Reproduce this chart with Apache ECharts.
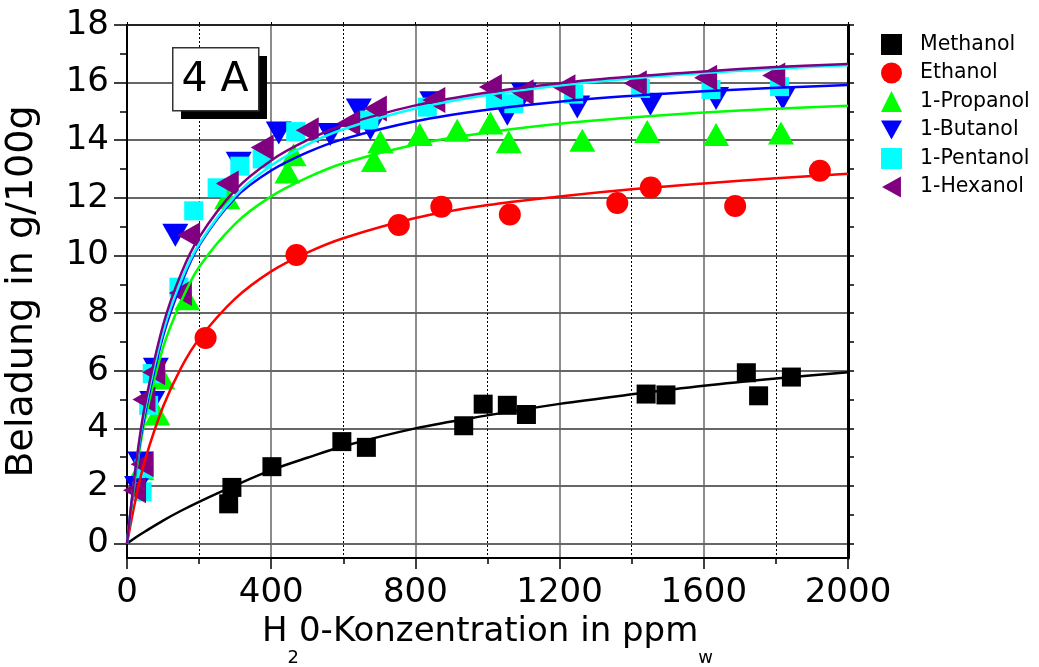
<!DOCTYPE html>
<html><head><meta charset="utf-8">
<script src="https://cdn.jsdelivr.net/npm/echarts@6/dist/echarts.min.js"></script>
<style>html,body{margin:0;padding:0;background:#fff}#c{width:1039px;height:667px}</style>
</head><body><div id="c"></div>
<script>
// ---- data ----
const seriesNames = ['Methanol', 'Ethanol', '1-Propanol', '1-Butanol', '1-Pentanol', '1-Hexanol'];
const methanolPts = [[282,1.38],[291,1.95],[402,2.67],[596,3.54],[664,3.34],[934,4.09],[988,4.84],[1055,4.80],[1108,4.48],[1440,5.19],[1495,5.16],[1718,5.93],[1752,5.13],[1843,5.78]];
const ethanolPts = [[218,7.14],[470,10.02],[754,11.06],[872,11.69],[1062,11.42],[1360,11.82],[1453,12.36],[1687,11.72],[1922,12.94]];
const propanolPts = [[40,2.6],[84,4.5],[98,5.75],[167,8.5],[278,12.0],[445,12.9],[462,13.5],[685,13.3],[703,13.95],[812,14.2],[916,14.35],[1008,14.6],[1059,13.95],[1263,14.0],[1443,14.3],[1634,14.2],[1814,14.25]];
const butanolPts = [[28,1.95],[37,2.8],[70,4.9],[80,6.05],[134,10.7],[310,13.2],[421,14.25],[564,14.2],[643,15.05],[675,14.4],[847,15.3],[1055,14.9],[1101,15.6],[1249,15.15],[1452,15.25],[1634,15.45],[1819,15.45]];
const pentanolPts = [[42,1.8],[47,2.6],[60,4.8],[70,5.9],[144,8.9],[185,11.55],[250,12.35],[313,13.1],[375,13.35],[468,14.3],[671,14.7],[833,15.15],[1022,15.44],[1073,15.27],[1239,15.6],[1424,15.8],[1620,15.76],[1810,15.86]];
const hexanolPts = [[21,1.85],[42,2.75],[47,5.0],[74,5.95],[148,8.7],[171,10.7],[278,12.5],[375,13.75],[500,14.35],[615,14.6],[689,15.1],[851,15.4],[1008,15.85],[1096,15.67],[1212,15.84],[1410,15.98],[1605,16.17],[1794,16.25]];

// fitted curves at these concentrations
const curveX = [0,25,50,100,150,200,300,400,500,600,800,1000,1200,1400,1600,1800,2000];
const methanolCurve = [0,0.22,0.42,0.8,1.14,1.45,2.02,2.55,2.98,3.38,4.0,4.45,4.85,5.18,5.48,5.73,5.95];
const ethanolCurve = [0,1.6,2.9,4.75,6.1,7.1,8.5,9.45,10.1,10.6,11.3,11.75,12.05,12.3,12.5,12.68,12.84];
const propanolCurve = [0,2.45,4.3,6.8,8.4,9.6,11.1,12.05,12.7,13.2,13.85,14.27,14.57,14.79,14.96,15.09,15.2];
const butanolCurve = [0,2.6,4.5,7.2,9.0,10.35,12.0,12.95,13.58,14.04,14.66,15.06,15.34,15.54,15.7,15.82,15.92];
const pentanolCurve = [0,2.67,4.66,7.35,9.13,10.4,12.07,13.12,13.85,14.38,15.1,15.57,15.9,16.14,16.33,16.48,16.6];
const hexanolCurve = [0,2.75,4.82,7.58,9.37,10.63,12.27,13.3,14.0,14.52,15.21,15.66,15.98,16.21,16.39,16.54,16.65];

const yMajorTicks = [0,2,4,6,8,10,12,14,16,18];
const yMinorTicks = [1,3,5,7,9,11,13,15,17];
const yRightTicks = [0,1,2,3,4,5,6,7,8,9,10,11,12,13,14,15,16,17,18];
const boxLabel = '4 A';

// ---- styling ----
const FONT = '"DejaVu Sans", sans-serif';
const colors = ['#000000', '#ff0000', '#00ff00', '#0000ff', '#00ffff', '#800080'];
const symbols = ['rect', 'circle', 'triangle', 'path://M0,0L10,0L5,9Z', 'rect', 'path://M9,0L9,10L0,5Z'];
const symbolSizes = [19, 22, [26, 23], [26, 23], 19, [23, 26]];
const pts = [methanolPts, ethanolPts, propanolPts, butanolPts, pentanolPts, hexanolPts];
const curves = [methanolCurve, ethanolCurve, propanolCurve, butanolCurve, pentanolCurve, hexanolCurve];

const series = [];
seriesNames.forEach((n, i) => {
  series.push({
    name: n, type: 'scatter', data: pts[i], symbol: symbols[i], symbolSize: symbolSizes[i],
    itemStyle: { color: colors[i], opacity: 1 }, z: 2, xAxisIndex: 0, yAxisIndex: 0,
    emphasis: { disabled: true }
  });
});
seriesNames.forEach((n, i) => {
  series.push({
    name: n + ' fit', type: 'line', data: curveX.map((x, k) => [x, curves[i][k]]),
    smooth: 0.35, showSymbol: false, symbol: 'none',
    lineStyle: { color: colors[i], width: 2.5 }, z: 3, xAxisIndex: 0, yAxisIndex: 0,
    emphasis: { disabled: true }
  });
});

const chart = echarts.init(document.getElementById('c'), null, { renderer: 'canvas' });
chart.setOption({
  animation: false,
  backgroundColor: '#fff',
  grid: { left: 127, right: 191, top: 25, bottom: 109, outerBoundsMode: 'none', containLabel: false },
  legend: {
    orient: 'vertical', left: 876, top: 29, itemWidth: 21, itemHeight: 21, itemGap: 7.5,
    data: seriesNames.map((n, i) => ({ name: n, icon: symbols[i], itemStyle: { color: colors[i] } })),
    textStyle: { fontFamily: FONT, fontSize: 20.5, color: '#000', padding: [0, 0, 0, 13] },
    selectedMode: false
  },
  xAxis: [
    {
      type: 'value', min: 0, max: 2000, interval: 400, position: 'bottom',
      axisLine: { show: true, onZero: false, lineStyle: { color: '#000', width: 2 } },
      axisTick: { show: true, length: 11, lineStyle: { color: '#000', width: 1.5 } },
      minorTick: { show: true, splitNumber: 2, length: 6, lineStyle: { color: '#000', width: 1.5 } },
      splitLine: { show: true, lineStyle: { color: '#666', width: 1.5 } },
      minorSplitLine: { show: true, lineStyle: { color: '#000', width: 1, type: [2, 2] } },
      axisLabel: { fontFamily: FONT, fontSize: 34, color: '#000', margin: 18, formatter: v => String(v) },
      name: '{a|H}{s|2}{a|0-Konzentration in ppm}{s|w}',
      nameLocation: 'middle', nameGap: 49,
      nameTextStyle: {
        rich: {
          a: { fontFamily: FONT, fontSize: 34, color: '#000', lineHeight: 38, verticalAlign: 'top' },
          s: { fontFamily: FONT, fontSize: 18, color: '#000', lineHeight: 18, padding: [34, 0, 0, 0], verticalAlign: 'top' }
        }
      }
    },
    {
      type: 'value', min: 0, max: 2000, interval: 200, position: 'top',
      axisLine: { show: true, onZero: false, lineStyle: { color: '#222', width: 2 } },
      axisTick: { show: true, length: 3, lineStyle: { color: '#000', width: 1 } },
      axisLabel: { show: false }, splitLine: { show: false }
    }
  ],
  yAxis: [
    {
      type: 'value', min: -0.5, max: 18, position: 'left',
      axisLine: { show: true, onZero: false, lineStyle: { color: '#000', width: 2 } },
      axisTick: { show: true, customValues: yMajorTicks, length: 13, lineStyle: { color: '#000', width: 1.5 } },
      axisLabel: { customValues: yMajorTicks, fontFamily: FONT, fontSize: 34, color: '#000', margin: 18 },
      splitLine: { show: true, lineStyle: { color: '#333', width: 1.5 } },
      name: 'Beladung in g/100g', nameLocation: 'middle', nameGap: 86,
      nameTextStyle: { fontFamily: FONT, fontSize: 38, color: '#000' }
    },
    {
      type: 'value', min: -0.5, max: 18, position: 'left',
      axisLine: { show: false },
      axisTick: { show: true, customValues: yMinorTicks, length: 7, lineStyle: { color: '#000', width: 1.5 } },
      axisLabel: { show: false }, splitLine: { show: false }
    },
    {
      type: 'value', min: -0.5, max: 18, position: 'right',
      axisLine: { show: true, onZero: false, lineStyle: { color: '#000', width: 3 } },
      axisTick: { show: true, customValues: yRightTicks, length: 6, lineStyle: { color: '#000', width: 1.5 } },
      axisLabel: { show: false }, splitLine: { show: false }
    }
  ],
  graphic: [
    { type: 'rect', left: 181, top: 56, shape: { width: 86, height: 63 }, style: { fill: '#000' }, z: 10 },
    { type: 'rect', left: 172, top: 47, shape: { width: 86, height: 63 }, style: { fill: '#fff', stroke: '#333', lineWidth: 1.5 }, z: 11 },
    { type: 'text', x: 215, y: 80, style: { text: boxLabel, font: '41px ' + FONT, fill: '#000', align: 'center', verticalAlign: 'middle' }, z: 12 }
  ],
  series: series
});
</script></body></html>
